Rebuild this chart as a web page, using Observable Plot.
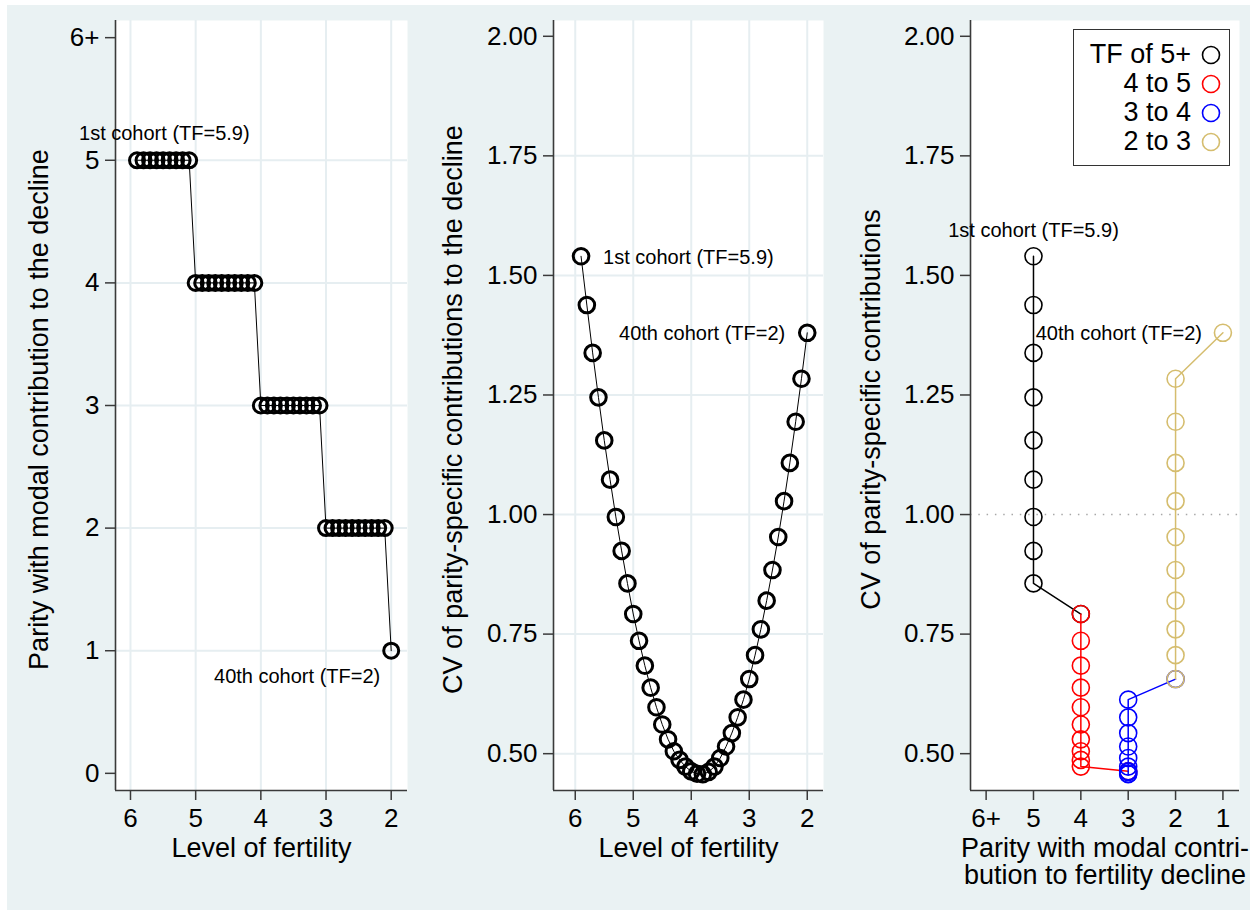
<!DOCTYPE html>
<html>
<head>
<meta charset="utf-8">
<script src="https://cdn.jsdelivr.net/npm/d3@7"></script>
<script src="https://cdn.jsdelivr.net/npm/@observablehq/plot@0.6"></script>
<style>
  body { margin: 0; background: #ffffff; font-family: "Liberation Sans", Arial, Helvetica, sans-serif; }
  #bg { position: absolute; left: 7px; top: 5px; width: 1243px; height: 905px; background: #eaf2f3; }
  .panel { position: absolute; top: 0; }
  #legend { position: absolute; left: 1073px; top: 29px; width: 157px; height: 137px; box-sizing: border-box;
            border: 1.5px solid #333; background: #fff; padding-top: 10px; padding-right: 8px; }
  .lrow { display: flex; justify-content: flex-end; align-items: center; height: 29px; font-size: 27px; color: #000; }
  .lrow svg { margin-left: 10px; }
</style>
</head>
<body>
<div id="bg"></div>
<div id="p1" class="panel" style="left:0px;width:420px"></div>
<div id="p2" class="panel" style="left:420px;width:420px"></div>
<div id="p3" class="panel" style="left:840px;width:415px"></div>
<div id="legend"></div>
<script>
// ---------------- data ----------------
const cohortTF = [5.9, 5.8, 5.7, 5.6, 5.5, 5.4, 5.3, 5.2, 5.1, 5.0,
                  4.9, 4.8, 4.7, 4.6, 4.5, 4.4, 4.3, 4.2, 4.1, 4.0,
                  3.9, 3.8, 3.7, 3.6, 3.5, 3.4, 3.3, 3.2, 3.1, 3.0,
                  2.9, 2.8, 2.7, 2.6, 2.5, 2.4, 2.3, 2.2, 2.1, 2.0];
const modalParity = [5, 5, 5, 5, 5, 5, 5, 5, 5, 4,
                     4, 4, 4, 4, 4, 4, 4, 4, 4, 3,
                     3, 3, 3, 3, 3, 3, 3, 3, 3, 2,
                     2, 2, 2, 2, 2, 2, 2, 2, 2, 1];
const cvContrib = [1.540, 1.438, 1.338, 1.245, 1.155, 1.073, 0.995, 0.924, 0.856, 0.792,
                   0.736, 0.684, 0.638, 0.597, 0.561, 0.530, 0.505, 0.487, 0.473, 0.463,
                   0.458, 0.457, 0.462, 0.473, 0.491, 0.515, 0.543, 0.576, 0.613, 0.656,
                   0.706, 0.760, 0.820, 0.884, 0.953, 1.028, 1.108, 1.194, 1.284, 1.380];
const cohortLabels = ["1st cohort (TF=5.9)", "40th cohort (TF=2)"];
const groupLabels = ["TF of 5+", "4 to 5", "3 to 4", "2 to 3"];
const groupRanges = [[5, 6], [4, 5], [3, 4], [2, 3]];
const groupColors = ["#000000", "#ff0000", "#0000ff", "#d5bd6e"];
const fertTicks = [6, 5, 4, 3, 2];
const parityTicks = [0, 1, 2, 3, 4, 5, 6];
const parityGrid = [1, 2, 3, 4, 5];
const parityAxisTicks = [6, 5, 4, 3, 2, 1];
const cvTicks = [0.5, 0.75, 1.0, 1.25, 1.5, 1.75, 2.0];
const cvGrid = [0.5, 0.75, 1.0, 1.25, 1.5, 1.75];
const cvReference = [1];
const titles = {
  y1: "Parity with modal contribution to the decline",
  y2: "CV of parity-specific contributions to the decline",
  y3: "CV of parity-specific contributions",
  x12: "Level of fertility",
  x3: "Parity with modal contri-\nbution to fertility decline"
};

// ---------------- derived ----------------
const cohorts = cohortTF.map((tf, i) => ({tf, parity: modalParity[i], cv: cvContrib[i]}));
const first = [cohorts[0]];
const last = [cohorts[cohorts.length - 1]];
const grouped = groupRanges.map(([lo, hi], g) =>
  cohorts.filter(d => d.tf >= lo - 1e-9 && d.tf <= hi + 1e-9).map(d => ({...d, group: groupLabels[g]})));
const parityLabel = d => d === 6 ? "6+" : String(d);

// ---------------- style ----------------
const font = '"Liberation Sans", Arial, Helvetica, sans-serif';
const gridColor = "#e6eef1";
const axisColor = "#3a3a3a";
const style = {fontFamily: font, background: "transparent", overflow: "visible", color: "#000"};
const tickFont = 26, titleFont = 27, noteFont = 20;

function axes(xTicks, xFmt, yTicks, yFmt, xDom, yDom) {
  return [
    Plot.ruleX([xDom[0]], {stroke: axisColor, strokeWidth: 1.6}),
    Plot.ruleY([yDom[0]], {stroke: axisColor, strokeWidth: 1.6}),
    Plot.axisX(xTicks, {tickSize: 10, tickPadding: 8, fontSize: tickFont, tickFormat: xFmt, label: null, stroke: axisColor, strokeWidth: 1.5}),
    Plot.axisY(yTicks, {tickSize: 10, tickPadding: 6, fontSize: tickFont, tickFormat: yFmt, label: null, stroke: axisColor, strokeWidth: 1.5})
  ];
}
function yTitle(text, dx) {
  return Plot.text([text], {frameAnchor: "left", textAnchor: "middle", lineAnchor: "middle", rotate: -90, dx, dy: 4, fontSize: titleFont});
}
function xTitle(text, lineHeight) {
  return Plot.text([text], {frameAnchor: "bottom", textAnchor: "middle", lineAnchor: "top", dy: 47, lineHeight, fontSize: titleFont});
}

// ---------------- panel 1 ----------------
const x1 = [6.23, 1.75], y1 = [-0.14, 6.14];
const p1 = Plot.plot({
  width: 420, height: 910,
  marginLeft: 115, marginRight: 13, marginTop: 20, marginBottom: 120,
  style,
  x: {domain: x1}, y: {domain: y1},
  marks: [
    Plot.frame({fill: "white", stroke: null}),
    Plot.gridX(fertTicks, {stroke: gridColor, strokeOpacity: 1, strokeWidth: 2}),
    Plot.gridY(parityGrid, {stroke: gridColor, strokeOpacity: 1, strokeWidth: 2}),
    ...axes(fertTicks, d => String(d), parityTicks, parityLabel, x1, y1),
    Plot.line(cohorts, {x: "tf", y: "parity", stroke: "#000", strokeWidth: 1}),
    Plot.dot(cohorts, {x: "tf", y: "parity", r: 7.5, stroke: "#000", strokeWidth: 3, fill: "none"}),
    Plot.text(first, {x: "tf", y: "parity", text: () => cohortLabels[0], textAnchor: "start", dx: -58, dy: -27, fontSize: noteFont}),
    Plot.text(last, {x: "tf", y: "parity", text: () => cohortLabels[1], textAnchor: "end", dx: -11, dy: 26, fontSize: noteFont}),
    yTitle(titles.y1, -76),
    xTitle(titles.x12, 1)
  ]
});
document.getElementById("p1").append(p1);

// ---------------- panel 2 ----------------
const x2 = [6.375, 1.72], y2 = [0.423, 2.033];
const p2 = Plot.plot({
  width: 420, height: 910,
  marginLeft: 133, marginRight: 17, marginTop: 20, marginBottom: 120,
  style,
  x: {domain: x2}, y: {domain: y2},
  marks: [
    Plot.frame({fill: "white", stroke: null}),
    Plot.gridX(fertTicks, {stroke: gridColor, strokeOpacity: 1, strokeWidth: 2}),
    Plot.gridY(cvGrid, {stroke: gridColor, strokeOpacity: 1, strokeWidth: 2}),
    ...axes(fertTicks, d => String(d), cvTicks, d3.format(".2f"), x2, y2),
    Plot.line(cohorts, {x: "tf", y: "cv", stroke: "#000", strokeWidth: 1}),
    Plot.dot(cohorts, {x: "tf", y: "cv", r: 7.8, stroke: "#000", strokeWidth: 3, fill: "none"}),
    Plot.text(first, {x: "tf", y: "cv", text: () => cohortLabels[0], textAnchor: "start", dx: 22, dy: 1, fontSize: noteFont}),
    Plot.text(last, {x: "tf", y: "cv", text: () => cohortLabels[1], textAnchor: "end", dx: -22, dy: 1, fontSize: noteFont}),
    yTitle(titles.y2, -100),
    xTitle(titles.x12, 1)
  ]
});
document.getElementById("p2").append(p2);

// ---------------- panel 3 ----------------
const x3 = [6.33, 0.65], y3 = [0.423, 2.033];
const groupMarks = grouped.flatMap((rows, g) => [
  Plot.line(rows, {x: "parity", y: "cv", stroke: groupColors[g], strokeWidth: 1.5}),
  Plot.dot(rows, {x: "parity", y: "cv", r: 8.5, stroke: groupColors[g], strokeWidth: 1.6, fill: "none"})
]);
const p3 = Plot.plot({
  width: 415, height: 910,
  marginLeft: 130, marginRight: 16, marginTop: 20, marginBottom: 120,
  style,
  x: {domain: x3}, y: {domain: y3},
  marks: [
    Plot.frame({fill: "white", stroke: null}),
    Plot.ruleY(cvReference, {stroke: "#a8a8a8", strokeWidth: 1.5, strokeDasharray: "1.5,6.8"}),
    ...axes(parityAxisTicks, parityLabel, cvTicks, d3.format(".2f"), x3, y3),
    ...groupMarks,
    Plot.text(first, {x: "parity", y: "cv", text: () => cohortLabels[0], textAnchor: "middle", dy: -26, fontSize: noteFont}),
    Plot.text(last, {x: "parity", y: "cv", text: () => cohortLabels[1], textAnchor: "end", dx: -21, dy: 1, fontSize: noteFont}),
    yTitle(titles.y3, -99),
    xTitle(titles.x3, 1.0)
  ]
});
document.getElementById("p3").append(p3);

// ---------------- legend ----------------
const legend = document.getElementById("legend");
groupLabels.forEach((label, g) => {
  const row = document.createElement("div");
  row.className = "lrow";
  const span = document.createElement("span");
  span.textContent = label;
  row.append(span);
  const ns = "http://www.w3.org/2000/svg";
  const svg = document.createElementNS(ns, "svg");
  svg.setAttribute("width", "20"); svg.setAttribute("height", "20");
  const c = document.createElementNS(ns, "circle");
  c.setAttribute("cx", "10"); c.setAttribute("cy", "10"); c.setAttribute("r", "8.5");
  c.setAttribute("fill", "none"); c.setAttribute("stroke", groupColors[g]); c.setAttribute("stroke-width", "1.6");
  svg.append(c);
  row.append(svg);
  legend.append(row);
});
</script>
</body>
</html>
